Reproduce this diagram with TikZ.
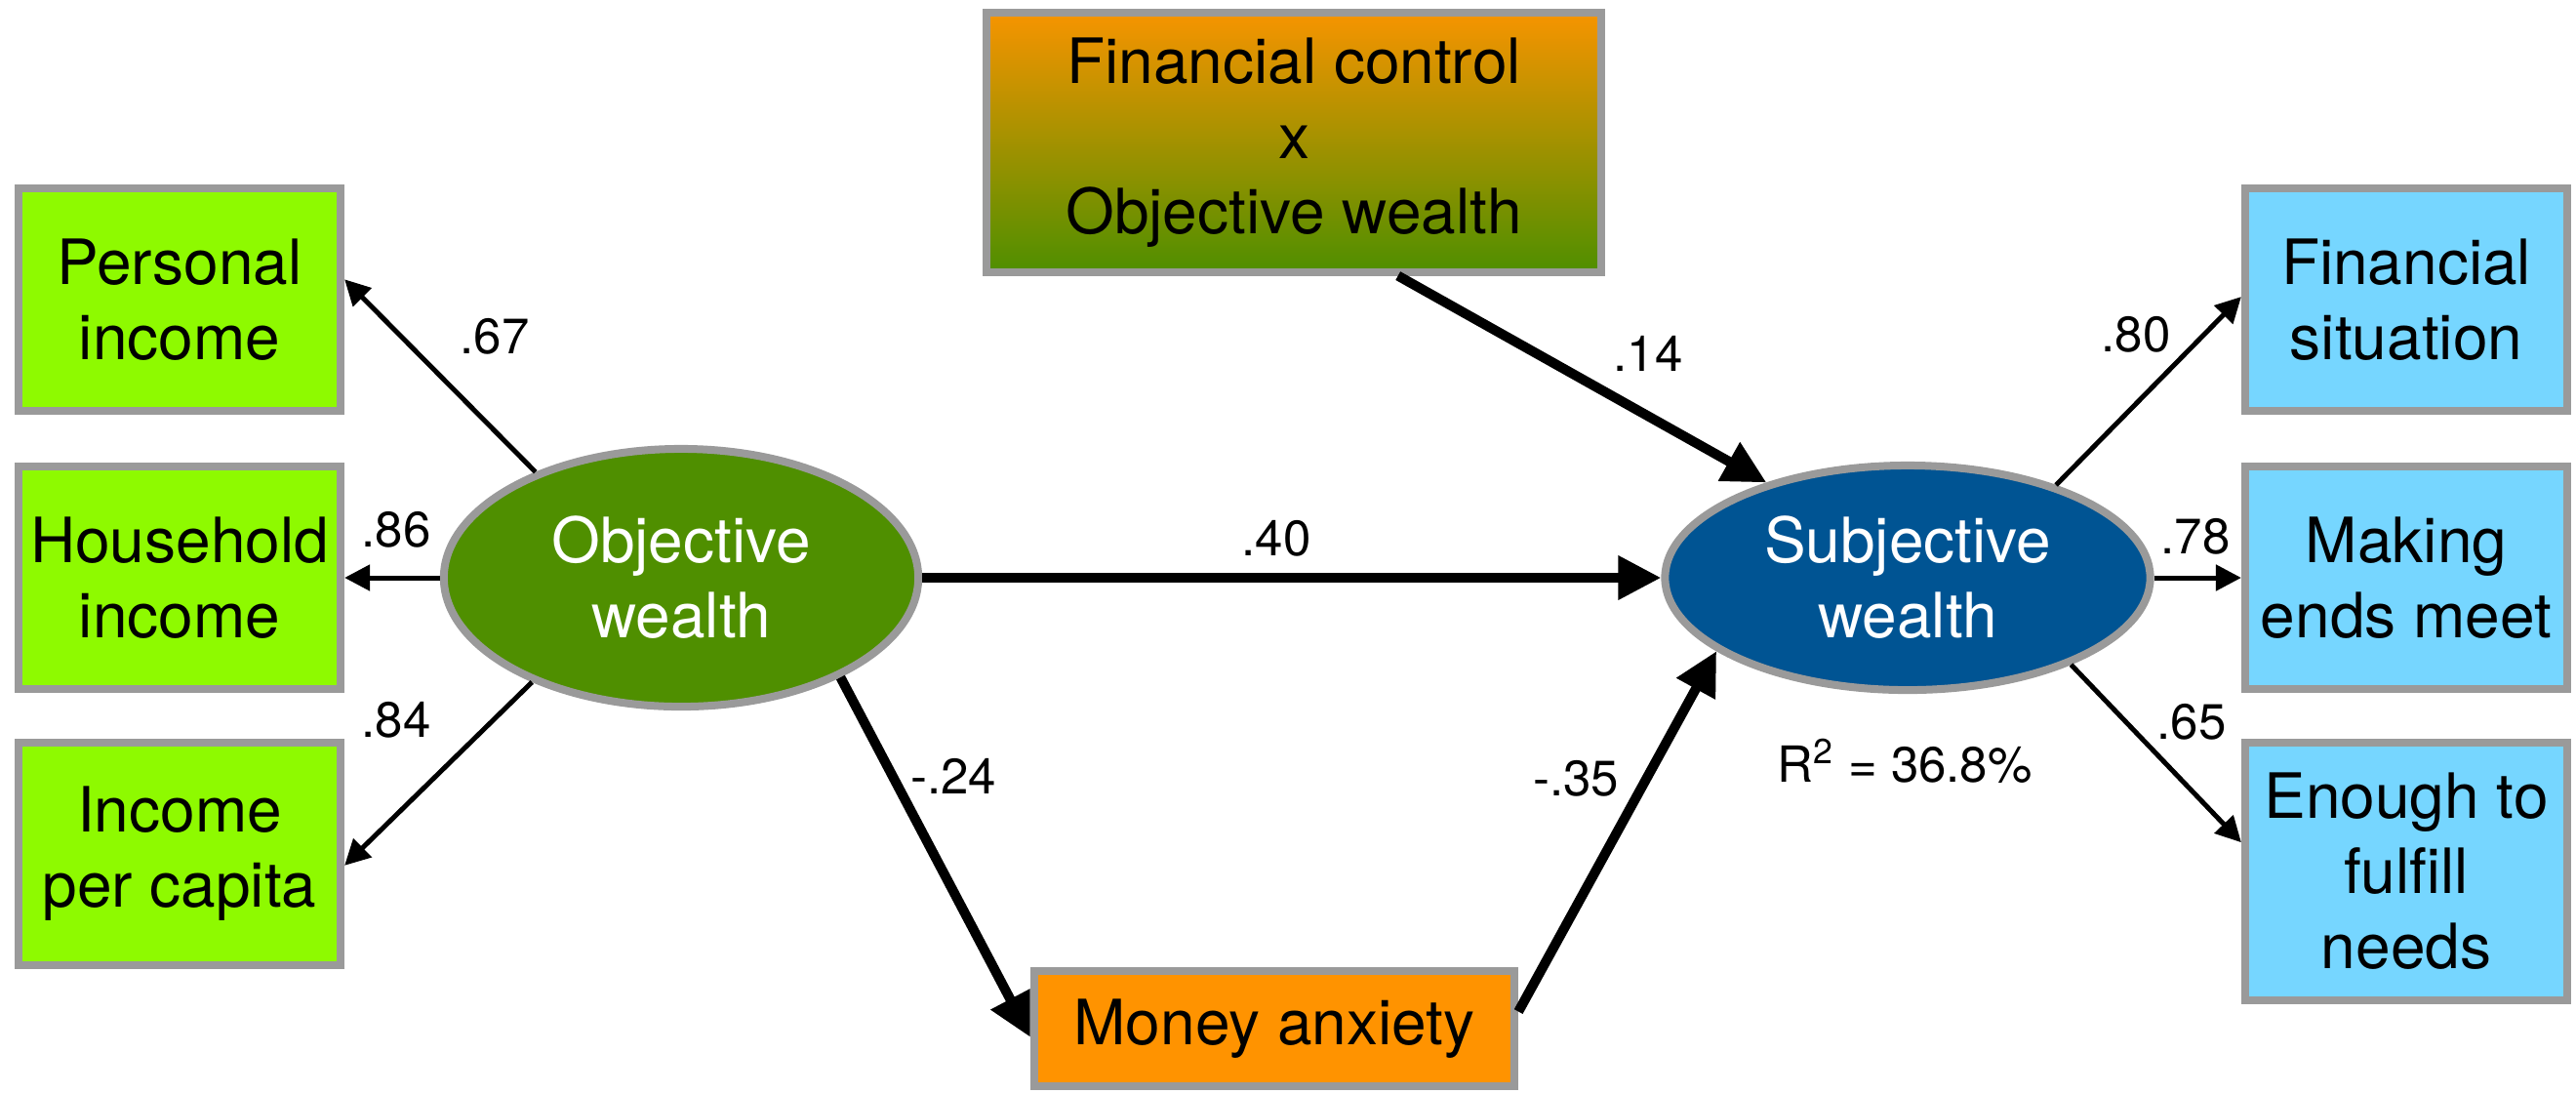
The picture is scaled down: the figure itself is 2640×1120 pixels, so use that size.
\documentclass[tikz,border=0pt]{standalone}
\usepackage{fontspec}
\setmainfont{TeX Gyre Heros}
\usetikzlibrary{arrows.meta,shapes.geometric}

\definecolor{limeFill}{RGB}{142,250,0}
\definecolor{fernFill}{RGB}{79,143,0}
\definecolor{oceanFill}{RGB}{0,84,147}
\definecolor{skyFill}{RGB}{118,214,255}
\definecolor{tangerineFill}{RGB}{255,147,0}
\definecolor{gradTop}{RGB}{246,148,0}
\definecolor{borderGray}{RGB}{154,154,154}

\newcommand{\boxfont}{\fontsize{18.2}{21.9}\selectfont}
\newcommand{\coeffont}{\fontsize{14.5}{17}\selectfont}

\begin{document}
\begin{tikzpicture}[x=0.01cm,y=-0.01cm,
  varbox/.style={draw=borderGray, line width=0.08cm, inner sep=0pt, outer sep=0.04cm,
    align=center, font=\boxfont, text=black},
  indicator/.style={varbox, minimum width=3.30cm, minimum height=2.28cm},
  latent/.style={ellipse, draw=borderGray, line width=0.08cm, inner sep=0pt, outer sep=0.04cm,
    align=center, font=\boxfont, text=white},
  heavyarrow/.style={line width=0.1cm, -{Triangle[length=0.44cm,width=0.43cm]}},
  lightarrow/.style={line width=0.05cm, -{Triangle[length=0.26cm,width=0.26cm]}},
  coef/.style={font=\coeffont, inner sep=0pt}]

\useasboundingbox (0,0) rectangle (2640,1120);

% indicators of objective wealth
\node[indicator, fill=limeFill] (pi)  at (184,307) {Personal\\income};
\node[indicator, fill=limeFill] (hi)  at (184,592) {Household\\income};
\node[indicator, fill=limeFill] (ipc) at (184,875) {Income\\per capita};

% latent variables
\node[latent, fill=fernFill, minimum width=4.86cm, minimum height=2.64cm]
  (obj) at (698,592) {Objective\\wealth};
\node[latent, fill=oceanFill, minimum width=4.97cm, minimum height=2.30cm]
  (subj) at (1955,592) {Subjective\\wealth};

% moderator and mediator
\node[varbox, top color=gradTop, bottom color=fernFill, minimum width=6.30cm, minimum height=2.65cm]
  (fc) at (1326,146) {Financial control\\x\\Objective wealth};
\node[varbox, fill=tangerineFill, minimum width=4.92cm, minimum height=1.18cm]
  (ma) at (1306,1054) {Money anxiety};

% indicators of subjective wealth
\node[indicator, fill=skyFill] (fs)  at (2466,307) {Financial\\situation};
\node[indicator, fill=skyFill] (mem) at (2466,592) {Making\\ends meet};
\node[indicator, fill=skyFill, minimum height=2.64cm] (en) at (2466,893) {Enough to\\fulfill\\needs};

% measurement paths
\draw[lightarrow] (obj.144) -- (pi.7);
\draw[lightarrow] (obj.180) -- (hi.east);
\draw[lightarrow] (obj.215.6) -- (ipc.-4);
\draw[lightarrow] (subj.32.5) -- (fs.179);
\draw[lightarrow] (subj.0) -- (mem.west);
\draw[lightarrow] (subj.-28) -- (en.170);

% structural paths
\draw[heavyarrow] (obj.0) -- (subj.180);
\draw[heavyarrow] (fc.-52.5) -- (subj.146.6);
\draw[heavyarrow] (obj.-32) -- (ma.182);
\draw[heavyarrow] (ma.4) -- (subj.201);

% coefficients
\node[coef] (c67) at (507,345) {.67};
\node[coef] (c86) at (406,543) {.86};
\node[coef] (c84) at (406,738) {.84};
\node[coef] (c40) at (1308,552) {.40};
\node[coef] (c14) at (1689,362) {.14};
\node[coef] (c24) at (977,795) {-.24};
\node[coef] (c35) at (1615,798) {-.35};
\node[coef] (c80) at (2189,343) {.80};
\node[coef] (c78) at (2250,550) {.78};
\node[coef] (c65) at (2246,740) {.65};
\node[coef] (rsq) at (1952,780) {R\textsuperscript{2} = 36.8\%};

\end{tikzpicture}
\end{document}
